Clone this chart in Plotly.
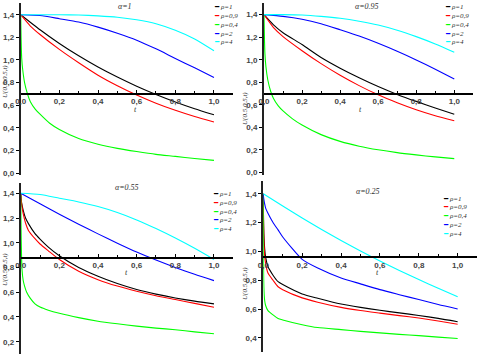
"""
Four panels of U(0.5,0.5,t) against t for alpha = 1, 0.95, 0.55 and 0.25,
one curve per rho. Axes cross inside the plot, Maple style.
"""

import plotly.graph_objects as go

W, H = 480, 356

# ---- data ----
T = [0, 0.1, 0.2, 0.3, 0.4, 0.5, 0.6, 0.7, 0.8, 0.9, 1.0]
T_FAST = [0, 0.05, 0.1, 0.2, 0.3, 0.4, 0.5, 0.6, 0.7, 0.8, 0.9, 1.0]
T_GREEN = [0, 0.002, 0.005, 0.01, 0.02, 0.035, 0.05, 0.075, 0.1, 0.15,
           0.2, 0.3, 0.4, 0.5, 0.6, 0.7, 0.8, 0.9, 1.0]
T_A55 = [0, 0.005, 0.013, 0.025, 0.04, 0.074, 0.1, 0.143, 0.2, 0.3, 0.4,
         0.5, 0.6, 0.7, 0.8, 0.9, 1.0]
T_A55_GREEN = [0, 0.002, 0.004, 0.007, 0.013, 0.02, 0.031, 0.05, 0.074, 0.1,
               0.143, 0.2, 0.3, 0.4, 0.5, 0.6, 0.7, 0.8, 0.9, 1.0]
T_A25 = [0, 0.001, 0.003, 0.007, 0.012, 0.024, 0.05, 0.076, 0.1, 0.2, 0.28,
         0.4, 0.5, 0.6, 0.7, 0.8, 0.9, 1.0]

# alpha = 1
A1_RHO1 = [1.40, 1.267, 1.146, 1.037, 0.938, 0.849, 0.768, 0.695, 0.629, 0.569, 0.515]
A1_RHO09 = [1.40, 1.30, 1.225, 1.093, 0.975, 0.865, 0.772, 0.690, 0.618, 0.555, 0.500, 0.452]
A1_RHO04 = [1.40, 1.20, 1.02, 0.92, 0.80, 0.70, 0.63, 0.565, 0.52, 0.44,
            0.385, 0.305, 0.255, 0.218, 0.19, 0.165, 0.147, 0.128, 0.112]
A1_RHO2 = [1.40, 1.393, 1.365, 1.335, 1.29, 1.236, 1.175, 1.098, 1.013, 0.930, 0.845]
A1_RHO4 = [1.40, 1.40, 1.399, 1.397, 1.39, 1.378, 1.355, 1.32, 1.262, 1.185, 1.081]

# alpha = 0.95
A95_RHO1 = [1.40, 1.31, 1.24, 1.135, 1.02, 0.925, 0.84, 0.762, 0.692, 0.63, 0.572, 0.515]
A95_RHO09 = [1.40, 1.285, 1.205, 1.08, 0.965, 0.862, 0.77, 0.688, 0.618, 0.556, 0.503, 0.458]
A95_RHO04 = [1.40, 1.22, 1.05, 0.94, 0.82, 0.72, 0.655, 0.59, 0.545, 0.475,
             0.42, 0.335, 0.275, 0.232, 0.20, 0.175, 0.155, 0.137, 0.122]
A95_RHO2 = [1.40, 1.385, 1.36, 1.32, 1.266, 1.21, 1.146, 1.075, 0.998, 0.915, 0.829]
A95_RHO4 = [1.40, 1.40, 1.397, 1.385, 1.368, 1.342, 1.308, 1.262, 1.205, 1.14, 1.066]

# alpha = 0.55
A55_RHO1 = [1.40, 1.32, 1.262, 1.20, 1.155, 1.074, 1.03, 0.965, 0.895, 0.80,
            0.729, 0.67, 0.622, 0.585, 0.554, 0.528, 0.506]
A55_RHO09 = [1.40, 1.31, 1.235, 1.16, 1.10, 1.033, 0.99, 0.935, 0.865, 0.77,
             0.702, 0.65, 0.608, 0.572, 0.541, 0.51, 0.479]
A55_RHO04 = [1.40, 1.10, 0.92, 0.78, 0.695, 0.65, 0.60, 0.55, 0.506, 0.48,
             0.455, 0.43, 0.395, 0.366, 0.345, 0.326, 0.31, 0.297, 0.28, 0.264]
A55_RHO2 = [1.40, 1.315, 1.23, 1.15, 1.072, 0.997, 0.925, 0.86, 0.80, 0.745, 0.694]
A55_RHO4 = [1.40, 1.39, 1.36, 1.33, 1.293, 1.245, 1.185, 1.115, 1.038, 0.955, 0.865]

# alpha = 0.25
A25_RHO1 = [1.40, 1.25, 1.12, 1.02, 0.96, 0.895, 0.835, 0.79, 0.77, 0.705, 0.675,
            0.635, 0.612, 0.592, 0.574, 0.556, 0.536, 0.513]
A25_RHO09 = [1.40, 1.22, 1.08, 0.97, 0.915, 0.85, 0.80, 0.755, 0.735, 0.678, 0.648,
             0.612, 0.59, 0.572, 0.555, 0.538, 0.518, 0.495]
A25_RHO04 = [1.40, 0.95, 0.75, 0.66, 0.625, 0.59, 0.56, 0.535, 0.525, 0.492, 0.472,
             0.458, 0.446, 0.435, 0.425, 0.416, 0.406, 0.396]
A25_RHO2 = [1.40, 1.38, 1.36, 1.33, 1.30, 1.264, 1.20, 1.149, 1.10, 0.945, 0.885,
            0.816, 0.775, 0.735, 0.70, 0.666, 0.632, 0.601]
A25_RHO4 = [1.40, 1.315, 1.232, 1.152, 1.076, 1.003, 0.934, 0.868, 0.805, 0.745, 0.685]

RHO_LABELS = ["ρ=1", "ρ=0,9", "ρ=0,4", "ρ=2", "ρ=4"]
COLORS = ["#000000", "#ff0000", "#00ff00", "#0000ff", "#00ffff"]
X_TICKS = [0, 0.2, 0.4, 0.6, 0.8, 1.0]
X_MINOR = [0.1, 0.3, 0.5, 0.7, 0.9, 1.1]

panels = [
    dict(title="α=1", ymin=-0.02, ymax=1.5, cross=0.7,
         yticks=[0, 0.2, 0.4, 0.6, 0.8, 1.0, 1.2, 1.4],
         series=[(T, A1_RHO1), (T_FAST, A1_RHO09), (T_GREEN, A1_RHO04),
                 (T, A1_RHO2), (T, A1_RHO4)]),
    dict(title="α=0.95", ymin=-0.02, ymax=1.5, cross=0.7,
         yticks=[0, 0.2, 0.4, 0.6, 0.8, 1.0, 1.2, 1.4],
         series=[(T_FAST, A95_RHO1), (T_FAST, A95_RHO09), (T_GREEN, A95_RHO04),
                 (T, A95_RHO2), (T, A95_RHO4)]),
    dict(title="α=0.55", ymin=0.1, ymax=1.48, cross=0.88,
         yticks=[0.2, 0.4, 0.6, 0.8, 1.0, 1.2, 1.4],
         series=[(T_A55, A55_RHO1), (T_A55, A55_RHO09), (T_A55_GREEN, A55_RHO04),
                 (T, A55_RHO2), (T, A55_RHO4)]),
    dict(title="α=0.25", ymin=0.3, ymax=1.49, cross=0.96,
         yticks=[0.4, 0.6, 0.8, 1.0, 1.2, 1.4],
         series=[(T_A25, A25_RHO1), (T_A25, A25_RHO09), (T_A25, A25_RHO04),
                 (T_A25, A25_RHO2), (T, A25_RHO4)]),
]

# pixel boxes of each plot area: left, right, top, bottom
boxes = [
    (20.7, 233.3, 3.4, 175.3),
    (264.0, 473.3, 3.4, 174.6),
    (20.7, 233.3, 183.4, 354.1),
    (263.3, 477.1, 180.7, 352.4),
]
# annotation anchors in pixels
title_pos = [(125, 6), (367, 6), (127, 188), (368, 191)]
legend_pos = [(213, 7.3), (444, 7.3), (211.7, 194), (441.7, 198.7)]
ylabel_pos = [(5, 82), (245, 108), (5, 270), (245, 283)]
tlabel_pos = [(135, 109), (360, 110), (126, 272), (377, 272)]

tick_font = dict(family="Liberation Sans", size=8, color="#444444", weight="bold")
ital = dict(family="Liberation Serif", size=8, color="#333333", style="italic")

fig = go.Figure()
annotations = []

for i, (p, box) in enumerate(zip(panels, boxes)):
    s = "" if i == 0 else str(i + 1)
    left, right, top, bottom = box
    dom_x = [left / W, right / W]
    dom_y = [1 - bottom / H, 1 - top / H]
    frac = (p["cross"] - p["ymin"]) / (p["ymax"] - p["ymin"])
    pos = dom_y[0] + frac * (dom_y[1] - dom_y[0])

    for (tx, ty), name, col in zip(p["series"], RHO_LABELS, COLORS):
        fig.add_trace(go.Scatter(
            x=tx, y=ty, mode="lines", name=name, showlegend=False,
            line=dict(color=col, width=1.1, shape="spline", smoothing=0.6),
            xaxis="x" + s, yaxis="y" + s,
        ))

    # ticks point up so the labels sit close under the line, as in the original
    fig.layout["xaxis" + s] = dict(
        domain=dom_x, range=[0, 1.1], anchor="free", position=pos,
        automargin=False,
        showline=True, linecolor="black", linewidth=1.5,
        ticks="inside", ticklen=3, tickcolor="black", tickvals=X_TICKS,
        tickformat=".1f", tickfont=tick_font, showgrid=False, zeroline=False,
        minor=dict(ticks="inside", ticklen=2, tickcolor="black", tickvals=X_MINOR),
    )
    fig.layout["yaxis" + s] = dict(
        domain=dom_y, range=[p["ymin"], p["ymax"]], anchor="x" + s,
        automargin=False,
        showline=True, linecolor="#222222", linewidth=2,
        ticks="outside", ticklen=3, tickcolor="black", tickvals=p["yticks"],
        tickformat=".1f", tickfont=tick_font, showgrid=False, zeroline=False,
    )

    tx_, ty_ = title_pos[i]
    annotations.append(dict(text=p["title"], x=tx_ / W, y=1 - ty_ / H,
                            xref="paper", yref="paper", showarrow=False,
                            font=ital, xanchor="center", yanchor="middle"))
    lx, ly = legend_pos[i]
    for k, (name, col) in enumerate(zip(RHO_LABELS, COLORS)):
        yk = 1 - (ly + k * 8.8) / H
        # short coloured line sample, then the label
        annotations.append(dict(
            text="━", x=lx / W, y=yk, xref="paper", yref="paper",
            showarrow=False, xanchor="left", yanchor="middle", borderpad=0,
            font=dict(family="DejaVu Sans", size=7, color=col),
        ))
        annotations.append(dict(
            text=name, x=(lx + 6) / W, y=yk, xref="paper", yref="paper",
            showarrow=False, xanchor="left", yanchor="middle", borderpad=0,
            font=dict(family="Liberation Serif", size=7, color="#333333", style="italic"),
        ))
    yx, yy = ylabel_pos[i]
    annotations.append(dict(text="U(0.5,0.5,t)", x=yx / W, y=1 - yy / H,
                            xref="paper", yref="paper", showarrow=False,
                            textangle=-90, font=dict(ital, size=7),
                            xanchor="center", yanchor="middle"))
    ax, ay = tlabel_pos[i]
    annotations.append(dict(text="t", x=ax / W, y=1 - ay / H,
                            xref="paper", yref="paper", showarrow=False,
                            font=ital, xanchor="center", yanchor="middle"))

fig.update_layout(
    template="none",
    width=W, height=H,
    margin=dict(l=0, r=0, t=0, b=0),
    paper_bgcolor="white", plot_bgcolor="white",
    separators=",.",
    showlegend=False,
    annotations=annotations,
)

# the page body has a default 8px margin; drop it so the figure fills the window
fig.write_html("out.html", config={"displayModeBar": False},
               post_script="document.body.style.margin='0';")
